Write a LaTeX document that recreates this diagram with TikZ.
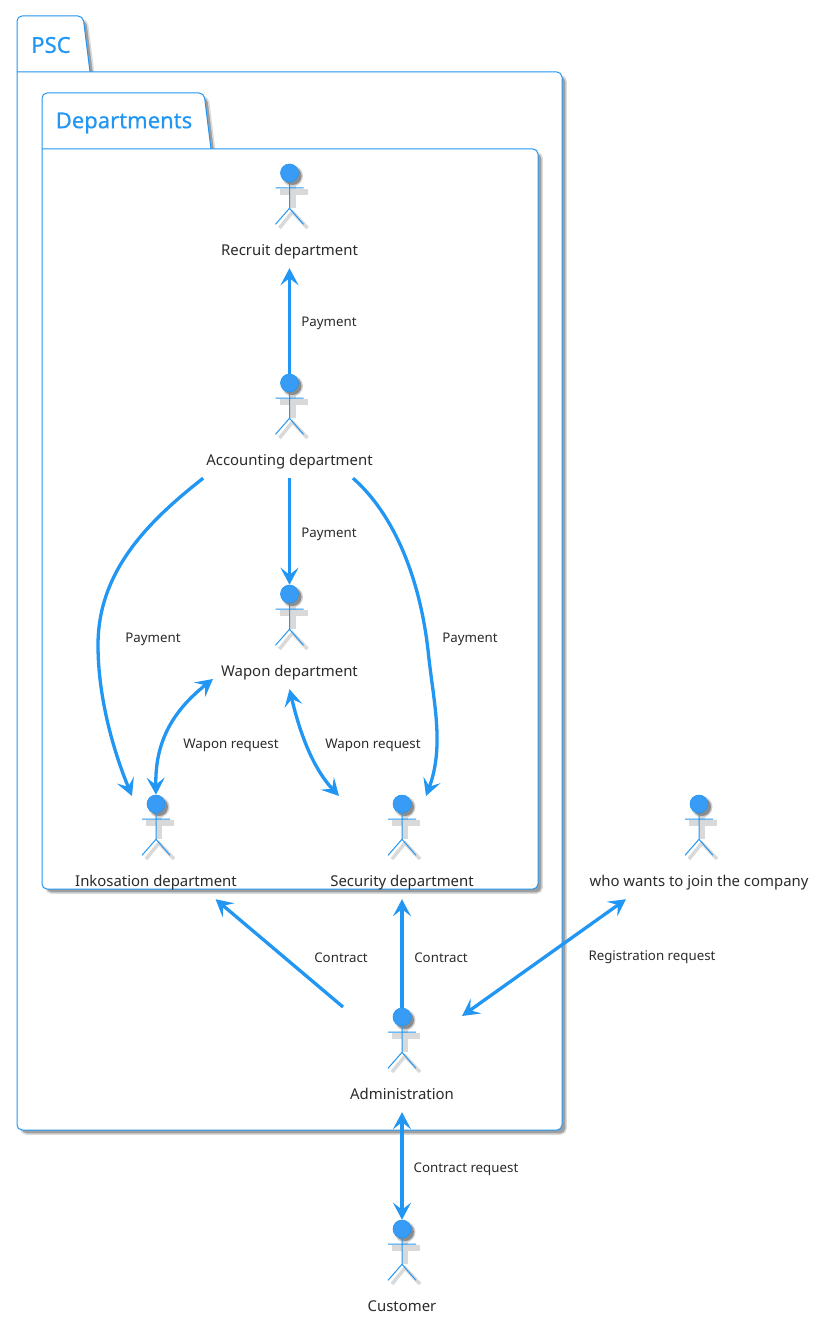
\documentclass[tikz,border=0pt]{standalone}
\usepackage{fontspec}
\setmainfont{Noto Sans}
\newfontfamily\titlefont[FakeBold=0.5]{Noto Sans}
\usetikzlibrary{arrows.meta,positioning,calc}
\definecolor{linkblue}{HTML}{2196F3}
\definecolor{headblue}{HTML}{389CF6}
\definecolor{inktext}{HTML}{2B2B2B}
\tikzset{
  actorlabel/.style={inner xsep=3pt,inner ysep=0pt,minimum height=36pt,text height=12pt,text depth=1pt,text=inktext,font=\fontsize{14.9}{17}\selectfont},
  linklabel/.style={inner sep=0pt,yshift=-3.5pt,text=inktext,font=\fontsize{13.3}{15}\selectfont},
  pkgtitle/.style={inner sep=0pt,text=linkblue,font=\titlefont\fontsize{22}{26}\selectfont},
  pkgbox/.style={draw=linkblue,fill=white,line width=1pt,rounded corners=5pt},
  pkgshadow/.style={fill=black!38,draw=black!14,line width=1.5pt,rounded corners=5pt},
  actorhead/.style={circle,fill=headblue,draw=linkblue,line width=.6pt,minimum size=18pt,inner sep=0pt},
  actorline/.style={draw=linkblue,line width=1pt},
  actorshadow/.style={draw=black!15,line width=6pt},
  legshadow/.style={draw=black!15,line width=3.5pt},
  link/.style={draw=linkblue,line width=3.3pt,{Stealth[length=17pt,width=18pt,inset=7pt]}-{Stealth[length=17pt,width=18pt,inset=7pt]}},
  linkto/.style={draw=linkblue,line width=3.3pt,-{Stealth[length=17pt,width=18pt,inset=7pt]}}
}
\begin{document}
\begin{tikzpicture}[x=1pt,y=-1pt]
\useasboundingbox (0,0) rectangle (819,1324);
\path[pkgshadow] (21,76) -- (21,20) -- (87,20) -- (94,76);
\path[pkgshadow] (21,76) -- (566,76) -- (566,1134) -- (21,1134) -- (21,76);
\path[pkgbox] (17,72) -- (17,16) -- (83,16) -- (90,72);
\path[pkgbox] (17,72) -- (562,72) -- (562,1130) -- (17,1130) -- (17,72);
\node[pkgtitle] (psc) at (51,45) {PSC};
\path[pkgshadow] (46,153) -- (46,97) -- (208,97) -- (215,153);
\path[pkgshadow] (46,153) -- (542,153) -- (542,893) -- (46,893) -- (46,153);
\path[pkgbox] (42,149) -- (42,93) -- (204,93) -- (211,149);
\path[pkgbox] (42,149) -- (538,149) -- (538,889) -- (42,889) -- (42,149);
\node[pkgtitle] (departments) at (124,123) {Departments};
\foreach \n/\x/\y/\t in {recruit/289.5/173/Recruit department,accounting/289.5/383/Accounting department,wapon/289.5/594/Wapon department,inkosation/156/804/Inkosation department,security/402/804/Security department,joiner/699/804/who wants to join the company,administration/402/1017/Administration,customer/402/1229/Customer}{
  \draw[actorshadow] (\x+3,\y+12) -- (\x+3,\y+35) (\x-10,\y+19) -- (\x+18,\y+19);
  \draw[legshadow] (\x-10,\y+55) -- (\x+3,\y+39) -- (\x+18,\y+55);
  \fill[black!18] (\x+3,\y+3) circle (10.5pt);
  \fill[black!45] (\x+3,\y+3) circle (9pt);
  \node[actorhead] (\n head) at (\x,\y) {};
  \draw[actorline] (\n head.south) -- ++(0,26) -- ++(-14,16) ++(14,-16) -- ++(14,16) (\x-14,\y+15) -- (\x+14,\y+15);
  \node[actorlabel] (\n) at (\x,\y+77) {\t};
}
\coordinate (inkosationtip) at (132,796);
\coordinate (securityleft) at (339,796);
\coordinate (securityright) at (426,796);
\coordinate (adminleft) at (343,1007);
\coordinate (adminright) at (462,1016);
\coordinate (waponleft) at (213,679);
\draw[linkto] (accountinghead.north) -- (recruit.south);
\draw[linkto] (accounting.south) -- (waponhead.north);
\draw[linkto] (accounting.south west) .. controls (150,520) and (98,570) .. (98,645) .. controls (98,700) and (115,755) .. (inkosationtip);
\draw[linkto] (accounting.-16) .. controls (395,515) and (420,580) .. (428,650) .. controls (433,700) and (445,745) .. (securityright);
\draw[link] (inkosationhead.north) .. controls (155,745) and (170,713) .. (waponleft);
\draw[link] (wapon.south) .. controls (298,725) and (310,765) .. (securityleft);
\draw[linkto] (adminleft) -- (inkosation.-17);
\draw[linkto] (administrationhead.north) -- (security.south);
\draw[link] (adminright) -- (joiner.194);
\draw[link] (administration.south) -- (customerhead.north);
\node[linklabel] (payone) at (329,320) {Payment};
\node[linklabel] (paytwo) at (329,531) {Payment};
\node[linklabel] (paythree) at (153,636) {Payment};
\node[linklabel] (payfour) at (470,636) {Payment};
\node[linklabel] (reqone) at (231,742) {Wapon request};
\node[linklabel] (reqtwo) at (373,742) {Wapon request};
\node[linklabel] (contractone) at (341,954) {Contract};
\node[linklabel] (contracttwo) at (441,954) {Contract};
\node[linklabel] (registration) at (652,954) {Registration request};
\node[linklabel] (contractreq) at (466,1166) {Contract request};
\end{tikzpicture}
\end{document}
